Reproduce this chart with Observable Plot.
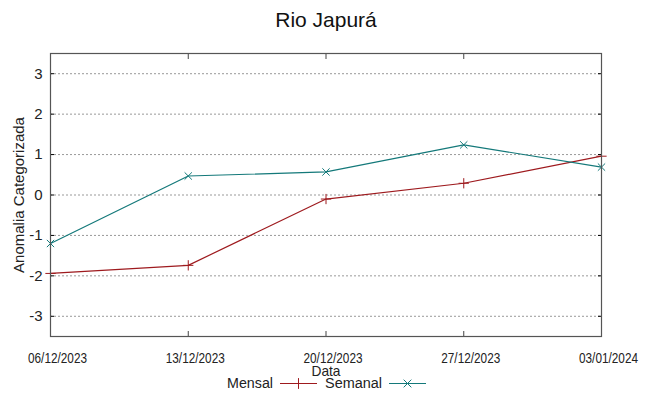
<!DOCTYPE html>
<html>
<head>
<meta charset="utf-8">
<script src="https://cdn.jsdelivr.net/npm/d3@7"></script>
<script src="https://cdn.jsdelivr.net/npm/@observablehq/plot@0.6"></script>
<style>
  html, body { margin: 0; padding: 0; background: #fff; }
  #chart { width: 649px; height: 396px; }
</style>
</head>
<body>
<div id="chart"></div>
<script>
const title = "Rio Japurá";
const yLabel = "Anomalia Categorizada";
const xLabel = "Data";
const dates = ["2023-12-06", "2023-12-13", "2023-12-20", "2023-12-27", "2024-01-03"];
const mensal = [-1.94, -1.74, -0.10, 0.29, 0.96];
const semanal = [-1.20, 0.47, 0.57, 1.24, 0.69];
const yTicks = [-3, -2, -1, 0, 1, 2, 3];
const seriesNames = ["Mensal", "Semanal"];
const colors = ["#9e1a1e", "#14797a"];
const symbols = ["plus", "times"];

const xDates = dates.map(d => new Date(d + "T00:00:00Z"));
const rows = [];
seriesNames.forEach((s, k) => {
  const vals = k === 0 ? mensal : semanal;
  xDates.forEach((d, i) => rows.push({series: s, date: d, value: vals[i]}));
});

const sans = "'Liberation Sans', Arial, sans-serif";
const fmt = d3.utcFormat("%d/%m/%Y");

const plot = Plot.plot({
  width: 649,
  height: 396,
  marginTop: 53,
  marginBottom: 60,
  marginLeft: 50,
  marginRight: 48,
  style: {fontFamily: sans, background: "#fff", color: "#222"},
  x: {type: "utc", domain: [xDates[0], xDates[xDates.length - 1]]},
  y: {domain: [-3.5, 3.5]},
  color: {domain: seriesNames, range: colors},
  marks: [
    Plot.gridY(yTicks, {stroke: "#999", strokeOpacity: 1, strokeDasharray: "2,2"}),
    Plot.axisY(yTicks, {anchor: "left", tickSize: -4, tickPadding: 12, fontSize: 15, tickFormat: d => String(d), label: null, stroke: "#000"}),
    Plot.axisY(yTicks, {anchor: "right", tickSize: -4, tickFormat: () => "", label: null, stroke: "#000"}),
    Plot.axisX(xDates, {anchor: "bottom", tickSize: -5, tickFormat: () => "", label: null, stroke: "#444"}),
    Plot.axisX(xDates, {anchor: "bottom", tickSize: 0, tickPadding: 16, dx: 7, fontSize: 14.5, tickFormat: fmt, label: null}),
    Plot.axisX(xDates, {anchor: "top", tickSize: -5, tickFormat: () => "", label: null, stroke: "#444"}),
    Plot.line(rows, {x: "date", y: "value", z: "series", stroke: "series", strokeWidth: 1.2}),
    Plot.dot(rows, {x: "date", y: "value", stroke: "series", symbol: d => symbols[seriesNames.indexOf(d.series)], r: 3.4, strokeWidth: 1}),
    Plot.frame({stroke: "#555", strokeWidth: 1.2}),
    Plot.text([title], {frameAnchor: "top", dy: -33, lineAnchor: "middle", fontSize: 21, fill: "#111"}),
    Plot.text([yLabel], {frameAnchor: "left", dx: -31, rotate: -90, textAnchor: "middle", lineAnchor: "middle", fontSize: 15, fill: "#222"}),
    Plot.text([xLabel], {frameAnchor: "bottom", dy: 35, lineAnchor: "middle", fontSize: 15, fill: "#222"})
  ]
});

const svg = d3.select(plot);
// narrow look for the date labels and axis title
const dateRe = /^\d\d\/\d\d\/\d{4}$/;
svg.selectAll("text")
  .filter(function() { return dateRe.test(this.textContent.trim()); })
  .attr("textLength", 59).attr("lengthAdjust", "spacingAndGlyphs");
svg.selectAll("text")
  .filter(function() { return this.textContent.trim() === xLabel; })
  .attr("textLength", 29).attr("lengthAdjust", "spacingAndGlyphs");

// Legend drawn into the same SVG
const legend = [
  {name: seriesNames[0], textEnd: 273, width: 46, x1: 280, x2: 317, color: colors[0], symbol: d3.symbolPlus},
  {name: seriesNames[1], textEnd: 382, width: 57, x1: 389, x2: 426, color: colors[1], symbol: d3.symbolTimes}
];
const lg = svg.append("g").attr("font-family", sans).attr("font-size", 15.5).attr("text-anchor", "start");
legend.forEach(l => {
  lg.append("text").attr("x", l.textEnd - l.width).attr("y", 388).attr("fill", "#222")
    .attr("textLength", l.width).attr("lengthAdjust", "spacingAndGlyphs").text(l.name);
  lg.append("line").attr("x1", l.x1).attr("x2", l.x2).attr("y1", 383.5).attr("y2", 383.5).attr("stroke", l.color).attr("stroke-width", 1.2);
  lg.append("path").attr("transform", `translate(${(l.x1 + l.x2) / 2},383.5)`).attr("d", d3.symbol(l.symbol, 40)()).attr("fill", "none").attr("stroke", l.color);
});

document.getElementById("chart").appendChild(plot);
</script>
</body>
</html>
